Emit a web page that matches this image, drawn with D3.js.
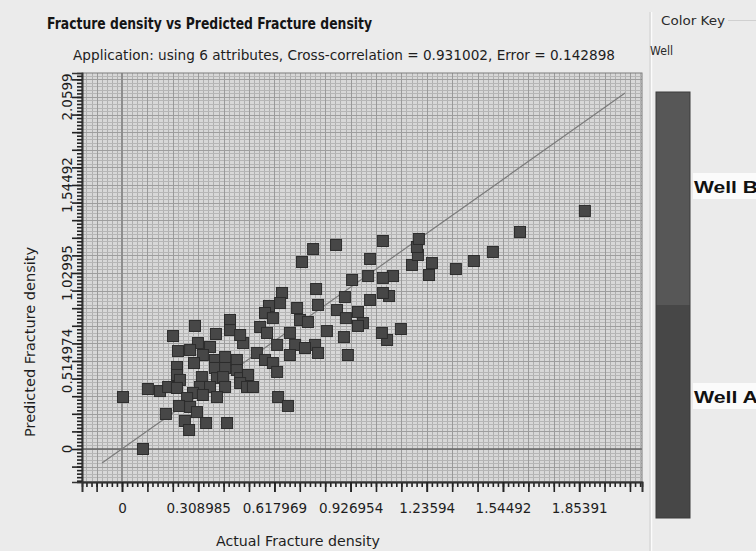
<!DOCTYPE html>
<html>
<head>
<meta charset="utf-8">
<script src="https://cdn.jsdelivr.net/npm/d3@7"></script>
<style>
  body { margin: 0; background: #ebebeb; }
  svg { display: block; }
</style>
</head>
<body>
<svg id="chart" width="756" height="551"></svg>
<script>
// Measured vs predicted fracture density, one square per sample
const actual = [
  1.877,1.614,1.504,1.427,1.354,1.257,1.245,1.176,1.200,1.196,
  1.204,1.058,1.099,1.058,1.083,1.058,1.131,1.075,1.054,0.868,
  0.775,0.730,1.006,0.933,0.998,0.787,0.795,0.904,1.006,0.872,
  0.908,0.957,0.977,0.957,0.831,0.900,0.916,0.649,0.641,0.710,
  0.596,0.580,0.612,0.722,0.754,0.560,0.588,0.681,0.702,0.629,
  0.783,0.795,0.681,0.742,0.547,0.580,0.612,0.629,0.491,0.438,
  0.438,0.479,0.296,0.207,0.381,0.308,0.276,0.357,0.227,0.328,
  0.377,0.418,0.466,0.292,0.223,0.377,0.418,0.466,0.223,0.235,
  0.324,0.385,0.410,0.479,0.511,0.316,0.357,0.418,0.479,0.507,
  0.531,0.105,0.154,0.187,0.223,0.288,0.328,0.264,0.385,0.004,
  0.633,0.673,0.231,0.276,0.304,0.178,0.255,0.272,0.341,0.426,
  0.085
];
const predicted = [
  1.393,1.270,1.153,1.100,1.053,1.088,1.018,1.077,1.135,1.182,
  1.229,1.217,1.012,1.001,0.895,0.913,0.702,0.638,0.679,1.194,
  1.170,1.094,1.112,0.989,1.012,0.936,0.843,0.889,0.872,0.813,
  0.766,0.802,0.737,0.720,0.690,0.655,0.550,0.913,0.854,0.825,
  0.837,0.796,0.766,0.755,0.743,0.714,0.679,0.679,0.609,0.609,
  0.609,0.562,0.550,0.591,0.562,0.521,0.503,0.451,0.620,0.755,
  0.696,0.667,0.720,0.661,0.673,0.620,0.579,0.597,0.573,0.550,
  0.521,0.538,0.521,0.503,0.480,0.474,0.474,0.462,0.433,0.404,
  0.421,0.415,0.421,0.415,0.433,0.363,0.363,0.363,0.386,0.363,
  0.363,0.351,0.339,0.363,0.357,0.328,0.316,0.298,0.304,0.304,
  0.304,0.252,0.252,0.246,0.216,0.205,0.164,0.111,0.152,0.152,
  0.000
];

// Reference (ideal) line end points
const idealX = [-0.081, 2.040];
const idealY = [-0.082, 2.083];

// Axis ticks
const tickStep = 0.1029949;
const xTickValues = [0, 0.308985, 0.617969, 0.926954, 1.23594, 1.54492, 1.85391];
const xTickLabels = ["0", "0.308985", "0.617969", "0.926954", "1.23594", "1.54492", "1.85391"];
const yTickValues = [0, 0.514974, 1.02995, 1.54492, 2.0599];
const yTickLabels = ["0", "0.514974", "1.02995", "1.54492", "2.0599"];

// Colour key
const wells = ["Well B", "Well A"];
const wellColors = ["#575757", "#474747"];

const svg = d3.select("#chart");
const plot = { left: 82, right: 642, top: 73, bottom: 482 };

const x = d3.scaleLinear().domain([-0.1622, 2.1087]).range([plot.left, plot.right]);
const y = d3.scaleLinear().domain([-0.1931, 2.2001]).range([plot.bottom, plot.top]);

function stepsIn(domain, step) {
  const k0 = Math.ceil(domain[0] / step - 1e-9), k1 = Math.floor(domain[1] / step + 1e-9);
  return d3.range(k0, k1 + 1).map(k => k * step);
}
const xMajor = stepsIn(x.domain(), tickStep);
const yMajor = stepsIn(y.domain(), tickStep);
const xMinor = stepsIn(x.domain(), tickStep / 5);
const yMinor = stepsIn(y.domain(), tickStep / 5);

// Plot background and fine grid
svg.append("rect")
  .attr("x", plot.left).attr("y", plot.top)
  .attr("width", plot.right - plot.left).attr("height", plot.bottom - plot.top)
  .attr("fill", "#d8d8d8");

const grid = svg.append("g").attr("shape-rendering", "crispEdges");
grid.selectAll(".vmin").data(xMinor).join("line")
  .attr("x1", d => Math.round(x(d)) + 0.5).attr("x2", d => Math.round(x(d)) + 0.5)
  .attr("y1", plot.top).attr("y2", plot.bottom)
  .attr("stroke", "#b0b0b0").attr("stroke-width", 1);
grid.selectAll(".hmin").data(yMinor).join("line")
  .attr("y1", d => Math.round(y(d)) + 0.5).attr("y2", d => Math.round(y(d)) + 0.5)
  .attr("x1", plot.left).attr("x2", plot.right)
  .attr("stroke", "#b6b6b6").attr("stroke-width", 1);
grid.selectAll(".vmaj").data(xMajor).join("line")
  .attr("x1", d => Math.round(x(d)) + 0.5).attr("x2", d => Math.round(x(d)) + 0.5)
  .attr("y1", plot.top).attr("y2", plot.bottom)
  .attr("stroke", "#9a9a9a").attr("stroke-width", 1);
grid.selectAll(".hmaj").data(yMajor).join("line")
  .attr("y1", d => Math.round(y(d)) + 0.5).attr("y2", d => Math.round(y(d)) + 0.5)
  .attr("x1", plot.left).attr("x2", plot.right)
  .attr("stroke", "#9e9e9e").attr("stroke-width", 1);

// Zero lines
svg.append("line")
  .attr("x1", x(0)).attr("x2", x(0)).attr("y1", plot.top).attr("y2", plot.bottom)
  .attr("stroke", "#8e8e8e").attr("stroke-width", 2);
svg.append("line")
  .attr("x1", plot.left).attr("x2", plot.right).attr("y1", y(0)).attr("y2", y(0))
  .attr("stroke", "#666").attr("stroke-width", 1.6);

// Ideal line
svg.append("line")
  .attr("x1", x(idealX[0])).attr("y1", y(idealY[0]))
  .attr("x2", x(idealX[1])).attr("y2", y(idealY[1]))
  .attr("stroke", "#7a7a7a").attr("stroke-width", 1.2);

// Samples
const pts = d3.range(actual.length);
svg.append("g").selectAll("rect").data(pts).join("rect")
  .attr("x", i => x(actual[i]) - 5.5)
  .attr("y", i => y(predicted[i]) - 5.5)
  .attr("width", 11).attr("height", 11)
  .attr("fill", "#474747")
  .attr("stroke", "#2c2c2c").attr("stroke-width", 1);

// Plot frame
svg.append("rect")
  .attr("x", plot.left).attr("y", plot.top)
  .attr("width", plot.right - plot.left).attr("height", plot.bottom - plot.top)
  .attr("fill", "none").attr("stroke", "#7c7c7c").attr("stroke-width", 1);

// Axes: minor ticks, major ticks, then labelled ticks
const axisStyle = g => {
  g.selectAll("path").attr("stroke", "#333").attr("stroke-width", 1.6);
  g.selectAll("line").attr("stroke", "#222").attr("stroke-width", 1.6);
  g.selectAll("text").attr("font-family", "DejaVu Sans, sans-serif")
    .attr("font-size", "13.5px").attr("fill", "#1e1e1e");
};

const xg = svg.append("g").attr("transform", `translate(0,${plot.bottom})`);
xg.append("g").call(d3.axisBottom(x).tickValues(xMinor).tickSize(5).tickFormat("")).call(axisStyle);
xg.append("g").call(d3.axisBottom(x).tickValues(xMajor).tickSize(10).tickFormat("")).call(axisStyle);
xg.append("g")
  .call(d3.axisBottom(x).tickValues(xTickValues).tickSize(10).tickPadding(11)
    .tickFormat((d, i) => xTickLabels[i]))
  .call(axisStyle);

const yg = svg.append("g").attr("transform", `translate(${plot.left},0)`);
yg.append("g").call(d3.axisLeft(y).tickValues(yMinor).tickSize(5).tickFormat("")).call(axisStyle);
yg.append("g").call(d3.axisLeft(y).tickValues(yMajor).tickSize(10).tickFormat("")).call(axisStyle);
yg.selectAll(".domain").attr("stroke", "#333");

// Rotated y tick labels
svg.append("g").selectAll("text").data(yTickValues).join("text")
  .attr("transform", d => `translate(72,${y(d)}) rotate(-90)`)
  .attr("text-anchor", "middle")
  .attr("font-family", "DejaVu Sans, sans-serif")
  .attr("font-size", "13.5px").attr("fill", "#1e1e1e")
  .text((d, i) => yTickLabels[i]);

// Titles
const font = "DejaVu Sans, sans-serif";
svg.append("text")
  .attr("x", 47).attr("y", 29)
  .attr("font-family", font).attr("font-weight", "bold").attr("font-size", "16px")
  .attr("fill", "#151515")
  .attr("textLength", 325).attr("lengthAdjust", "spacingAndGlyphs")
  .text("Fracture density vs Predicted Fracture density");
svg.append("text")
  .attr("x", 73).attr("y", 60)
  .attr("font-family", font).attr("font-size", "13.5px").attr("fill", "#1e1e1e")
  .attr("textLength", 542).attr("lengthAdjust", "spacingAndGlyphs")
  .text("Application: using 6 attributes, Cross-correlation = 0.931002, Error = 0.142898");
svg.append("text")
  .attr("x", 298).attr("y", 546).attr("text-anchor", "middle")
  .attr("font-family", font).attr("font-size", "14px").attr("fill", "#1e1e1e")
  .attr("textLength", 164).attr("lengthAdjust", "spacingAndGlyphs")
  .text("Actual Fracture density");
svg.append("text")
  .attr("transform", "translate(35,342) rotate(-90)").attr("text-anchor", "middle")
  .attr("font-family", font).attr("font-size", "14px").attr("fill", "#1e1e1e")
  .attr("textLength", 190).attr("lengthAdjust", "spacingAndGlyphs")
  .text("Predicted Fracture density");

// Colour key panel
svg.append("line").attr("x1", 651.5).attr("x2", 651.5).attr("y1", 12).attr("y2", 551)
  .attr("stroke", "#fbfbfb").attr("stroke-width", 1.5);
svg.append("line").attr("x1", 650).attr("x2", 650).attr("y1", 12).attr("y2", 551)
  .attr("stroke", "#cfcfcf").attr("stroke-width", 1);
svg.append("line").attr("x1", 728).attr("x2", 756).attr("y1", 20.5).attr("y2", 20.5)
  .attr("stroke", "#d0d0d0").attr("stroke-width", 1);
svg.append("text")
  .attr("x", 661).attr("y", 25)
  .attr("font-family", font).attr("font-size", "13px").attr("fill", "#2a2a2a")
  .attr("textLength", 64).attr("lengthAdjust", "spacingAndGlyphs")
  .text("Color Key");
svg.append("text")
  .attr("x", 650).attr("y", 55)
  .attr("font-family", font).attr("font-size", "13px").attr("fill", "#2a2a2a")
  .attr("textLength", 23).attr("lengthAdjust", "spacingAndGlyphs")
  .text("Well");

const keyScale = d3.scaleBand().domain(wells).range([92, 518]).paddingInner(0);
const key = svg.append("g");
key.selectAll("rect").data(wells).join("rect")
  .attr("x", 656).attr("y", d => keyScale(d))
  .attr("width", 34).attr("height", keyScale.bandwidth())
  .attr("fill", (d, i) => wellColors[i]);
key.append("rect")
  .attr("x", 656).attr("y", 92).attr("width", 34).attr("height", 426)
  .attr("fill", "none").attr("stroke", "#3c3c3c").attr("stroke-width", 1);

// Category labels sit against the bar, about 40% down each band
const labelY = [193, 403];
key.selectAll(".lbox").data(wells).join("rect")
  .attr("x", 693).attr("y", (d, i) => labelY[i] - 20)
  .attr("width", 63).attr("height", 26)
  .attr("fill", "#fbfbfb");
key.selectAll(".ltxt").data(wells).join("text")
  .attr("x", 694).attr("y", (d, i) => labelY[i])
  .attr("font-family", "Liberation Sans, Arial, sans-serif")
  .attr("font-weight", "bold").attr("font-size", "16px").attr("fill", "#111")
  .attr("textLength", 64).attr("lengthAdjust", "spacingAndGlyphs")
  .text(d => d);
</script>
</body>
</html>
